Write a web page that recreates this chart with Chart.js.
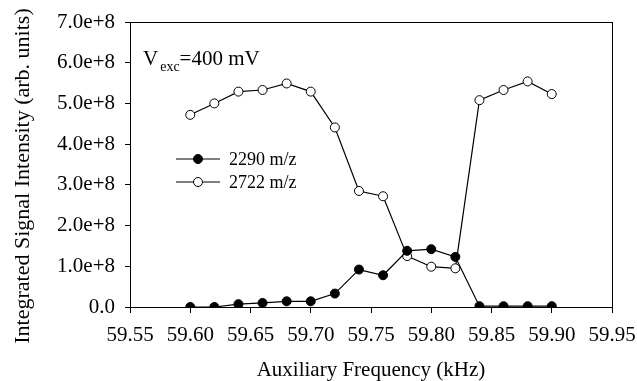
<!DOCTYPE html>
<html>
<head>
<meta charset="utf-8">
<script src="https://cdn.jsdelivr.net/npm/chart.js@4.4.1/dist/chart.umd.min.js"></script>
<style>
  html, body { margin: 0; padding: 0; background: #fff; }
  #wrap { width: 637px; height: 381px; }
</style>
</head>
<body>
<div id="wrap"><canvas id="chart" width="637" height="381"></canvas></div>
<script>
// -------------------------------------------------
// Data
// -------------------------------------------------
const freqs = [59.60, 59.62, 59.64, 59.66, 59.68, 59.70, 59.72, 59.74,
               59.76, 59.78, 59.80, 59.82, 59.84, 59.86, 59.88, 59.90];
const mz2290 = [0.00e8, 0.00e8, 0.07e8, 0.10e8, 0.14e8, 0.14e8, 0.33e8, 0.92e8,
                0.78e8, 1.38e8, 1.42e8, 1.23e8, 0.02e8, 0.02e8, 0.02e8, 0.02e8];
const mz2722 = [4.72e8, 5.00e8, 5.29e8, 5.33e8, 5.49e8, 5.29e8, 4.41e8, 2.85e8,
                2.72e8, 1.25e8, 0.99e8, 0.95e8, 5.08e8, 5.33e8, 5.54e8, 5.23e8];
const seriesLabels = ['2290 m/z', '2722 m/z'];
const xTicks = [59.55, 59.60, 59.65, 59.70, 59.75, 59.80, 59.85, 59.90, 59.95];
const yTicks = [0, 1e8, 2e8, 3e8, 4e8, 5e8, 6e8, 7e8];
const yTitle = 'Integrated Signal Intensity (arb. units)';

const SERIF = "'Liberation Serif', 'DejaVu Serif', serif";

function toPoints(ys) {
    return freqs.map((x, i) => ({ x: x, y: ys[i] }));
}

// -------------------------------------------------
// Plugin: plot frame, y title, in-plot legend and the V_exc note
// -------------------------------------------------
const decorations = {
    id: 'decorations',
    afterDraw(chart) {
        const { ctx, chartArea: a } = chart;
        ctx.save();
        ctx.strokeStyle = '#000';
        ctx.lineWidth = 1;
        ctx.strokeRect(a.left + 0.5, a.top + 0.5, a.right - a.left, a.bottom - a.top);

        // y axis title (sits a little below the plot centre in the original)
        ctx.save();
        ctx.translate(23, 176);
        ctx.rotate(-Math.PI / 2);
        ctx.font = '22px ' + SERIF;
        ctx.fillStyle = '#000';
        ctx.textAlign = 'center';
        ctx.textBaseline = 'middle';
        ctx.fillText(yTitle, 0, 0);
        ctx.restore();

        // V_exc annotation
        ctx.fillStyle = '#000';
        ctx.textBaseline = 'alphabetic';
        ctx.textAlign = 'left';
        ctx.font = '21px ' + SERIF;
        let x = 143;
        ctx.fillText('V', x, 65);
        x += ctx.measureText('V').width + 2;
        ctx.font = '14px ' + SERIF;
        ctx.fillText('exc', x, 71);
        x += ctx.measureText('exc').width;
        ctx.font = '21px ' + SERIF;
        ctx.fillText('=400 mV', x, 65);

        // legend
        chart.data.datasets.forEach((ds, i) => {
            const y = 159 + i * 23;
            ctx.beginPath();
            ctx.moveTo(176, y);
            ctx.lineTo(220, y);
            ctx.lineWidth = 1.2;
            ctx.strokeStyle = '#000';
            ctx.stroke();
            ctx.beginPath();
            ctx.arc(198, y, 4.5, 0, Math.PI * 2);
            ctx.fillStyle = ds.pointBackgroundColor;
            ctx.fill();
            ctx.lineWidth = 1;
            ctx.stroke();
            ctx.fillStyle = '#000';
            ctx.font = '18px ' + SERIF;
            ctx.textBaseline = 'middle';
            ctx.fillText(ds.label, 229, y + 1);
        });
        ctx.restore();
    }
};

const ctx = document.getElementById('chart').getContext('2d');
new Chart(ctx, {
    type: 'scatter',
    data: {
        datasets: [{
            label: seriesLabels[0],
            data: toPoints(mz2290),
            showLine: true,
            borderColor: '#000',
            borderWidth: 1.2,
            pointRadius: 4.5,
            pointBackgroundColor: '#000',
            pointBorderColor: '#000',
            pointBorderWidth: 1
        }, {
            label: seriesLabels[1],
            data: toPoints(mz2722),
            showLine: true,
            borderColor: '#000',
            borderWidth: 1.2,
            pointRadius: 4.5,
            pointBackgroundColor: '#fff',
            pointBorderColor: '#000',
            pointBorderWidth: 1
        }]
    },
    options: {
        responsive: false,
        animation: false,
        layout: { padding: { top: 22, right: 25, left: 0, bottom: 0 } },
        plugins: {
            legend: { display: false },
            tooltip: { enabled: false }
        },
        scales: {
            x: {
                type: 'linear',
                min: xTicks[0],
                max: xTicks[xTicks.length - 1],
                afterBuildTicks: (scale) => { scale.ticks = xTicks.map(v => ({ value: v })); },
                afterFit: (scale) => {
                    scale.height = 74;
                    scale.paddingLeft = 0;
                    scale.paddingRight = 0;
                },
                border: { color: '#000', width: 1 },
                grid: { drawOnChartArea: false, tickLength: 6, color: '#000' },
                ticks: {
                    color: '#000',
                    font: { family: SERIF, size: 21 },
                    padding: 10,
                    maxRotation: 0,
                    callback: (v) => Number(v).toFixed(2)
                },
                title: {
                    display: true,
                    text: 'Auxiliary Frequency (kHz)',
                    color: '#000',
                    font: { family: SERIF, size: 21, lineHeight: 1 },
                    padding: { top: 0, bottom: 0 }
                }
            },
            y: {
                min: 0,
                max: 7e8,
                afterBuildTicks: (scale) => {
                    const t = [];
                    for (let i = 0; i < yTicks.length; i++) {
                        t.push({ value: yTicks[i] });
                        if (i < yTicks.length - 1) t.push({ value: (yTicks[i] + yTicks[i + 1]) / 2 });
                    }
                    scale.ticks = t;
                },
                afterFit: (scale) => {
                    scale.width = 130;
                    scale.paddingTop = 0;
                    scale.paddingBottom = 0;
                },
                border: { color: '#000', width: 1 },
                grid: { drawOnChartArea: false, tickLength: 5, color: '#000' },
                ticks: {
                    color: '#000',
                    font: { family: SERIF, size: 21 },
                    padding: 10,
                    callback: (v) => yTicks.includes(v) ? (v === 0 ? '0.0' : v.toExponential(1)) : ''
                }
            }
        }
    },
    plugins: [decorations]
});
</script>
</body>
</html>
